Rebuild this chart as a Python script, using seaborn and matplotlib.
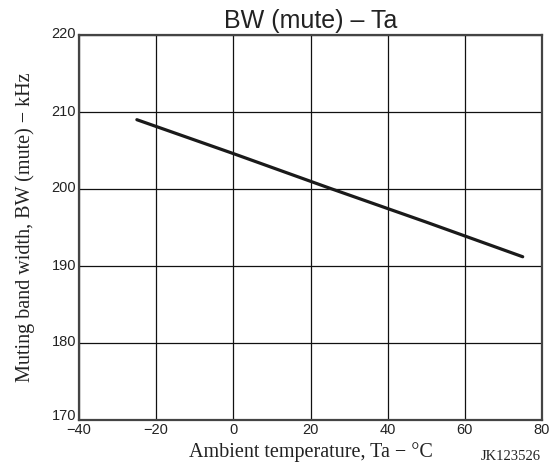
import matplotlib
matplotlib.use("Agg")
import matplotlib.pyplot as plt
import matplotlib.transforms as mtransforms
import seaborn as sns
import pandas as pd

# Data
temperature = [-25, 0, 25, 50, 75]
bandwidth = [209.0, 204.6, 200.1, 195.7, 191.2]
x_ticks = [-40, -20, 0, 20, 40, 60, 80]
y_ticks = [170, 180, 190, 200, 210, 220]

sns.set_style("white")
plt.rcParams['font.family'] = ['Liberation Sans', 'DejaVu Sans']

df = pd.DataFrame({"Ta": temperature, "BW": bandwidth})

fig = plt.figure(figsize=(5.54, 4.67), dpi=100)
ax = fig.add_axes([79/554, 1 - 420/467, (542-79)/554, (420-35)/467])

sns.lineplot(data=df, x="Ta", y="BW", ax=ax, color="#1a1a1a", linewidth=2.3)

ax.set_xlim(-40, 80)
ax.set_ylim(170, 220)
ax.set_xticks(x_ticks)
ax.set_yticks(y_ticks)
ax.set_xticklabels([f"{t}".replace("-", "\u2212") for t in x_ticks])
ax.set_yticklabels([str(t) for t in y_ticks])
ax.grid(True, color="#111111", linewidth=0.9)
ax.set_axisbelow(True)
for s in ax.spines.values():
    s.set_color("#444444")
    s.set_linewidth(1.6)
ax.tick_params(axis="both", length=0, labelsize=10.5, colors="#222222", pad=2)

# nudge y tick labels up slightly, as in the reference (bottom one a bit more)
for i, lbl in enumerate(ax.get_yticklabels()):
    dy = 5 if i == 0 else 2
    offset = mtransforms.ScaledTranslation(0, dy/100, fig.dpi_scale_trans)
    lbl.set_transform(lbl.get_transform() + offset)

ax.set_title("BW (mute) \u2013 Ta", fontsize=18, color="#222222", pad=5)
ax.set_xlabel("Ambient temperature, Ta \u2212 \u00b0C", fontsize=14.5,
              family=["Liberation Serif", "DejaVu Serif"], color="#222222", labelpad=4)
ax.set_ylabel("Muting band width, BW (mute) \u2212 kHz", fontsize=14.5,
              family=["Liberation Serif", "DejaVu Serif"], color="#222222", labelpad=12)

fig.text(541/554, 1 - 457/467, "JK123526", ha="right", va="center", fontsize=10.5,
         family=["Liberation Serif", "DejaVu Serif"], color="#222222")

fig.savefig("out.png", dpi=100)
